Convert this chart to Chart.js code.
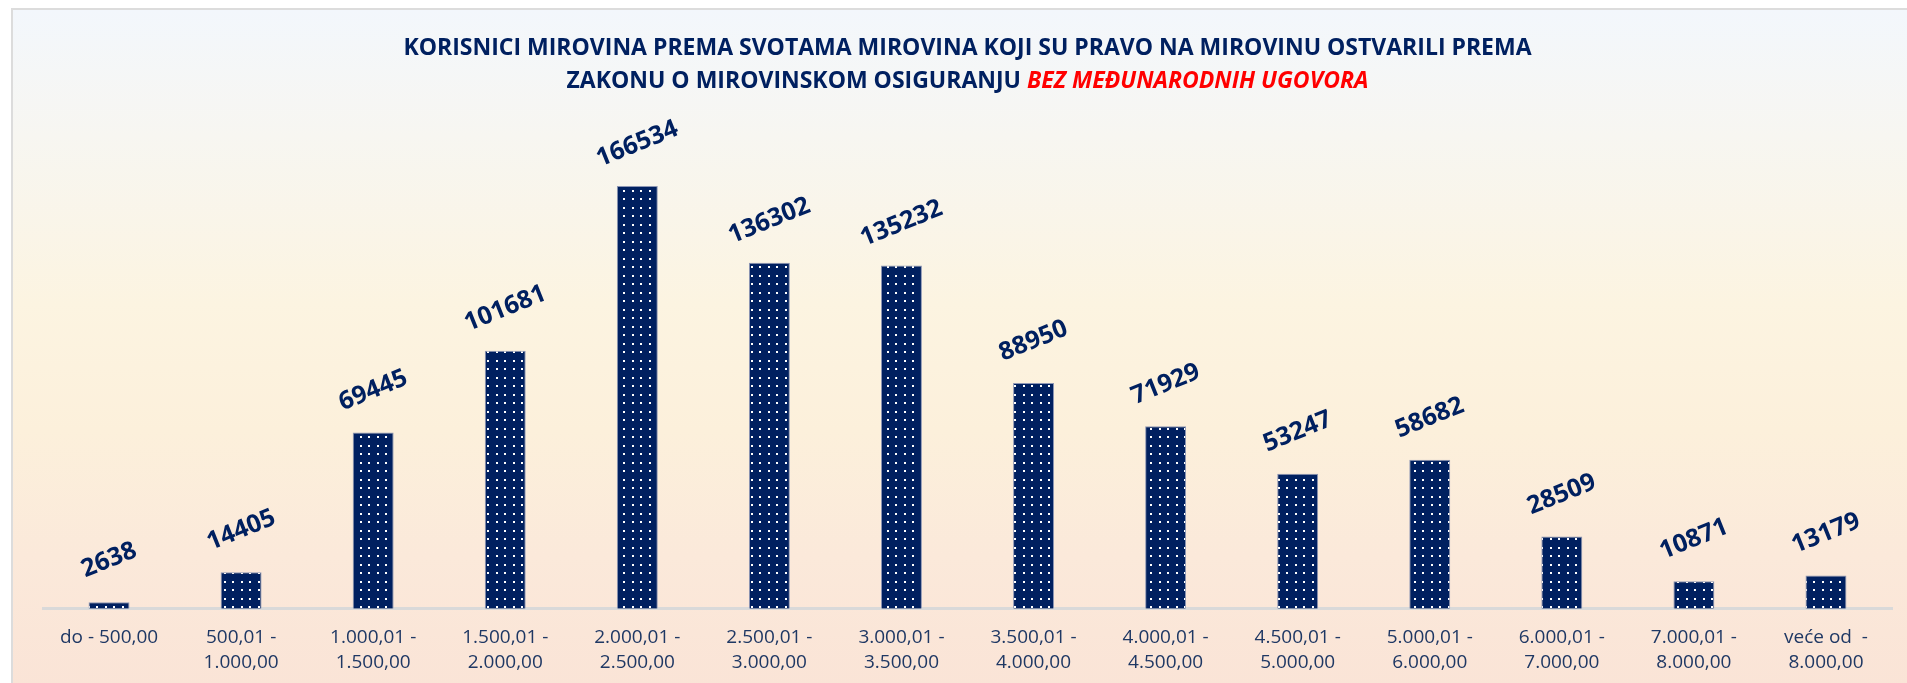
<!DOCTYPE html>
<html>
<head>
<meta charset="utf-8">
<title>Korisnici mirovina prema svotama mirovina</title>
<script src="https://cdn.jsdelivr.net/npm/chart.js@4.4.0/dist/chart.umd.min.js"></script>
<style>
    body { margin: 0; background: #ffffff; width: 1907px; height: 683px; overflow: hidden; position: relative; }
    #frame {
        position: absolute; left: 11px; top: 8px; width: 1920px; height: 700px;
        border: 2px solid #dcdcdc;
        background: linear-gradient(to bottom, #f3f7fc 0%, #f7f6f1 18%, #fcf4e1 42%, #fcf0db 60%, #fbe9da 78%, #fae3d6 100%);
    }
    #chart { position: absolute; left: 0; top: 0; }
</style>
</head>
<body>
<div id="frame"></div>
<canvas id="chart" width="1907" height="683"></canvas>
<script>
/* Data */
const categories = [
    'do - 500,00',
    ['500,01 -', '1.000,00'],
    ['1.000,01 -', '1.500,00'],
    ['1.500,01 -', '2.000,00'],
    ['2.000,01 -', '2.500,00'],
    ['2.500,01 -', '3.000,00'],
    ['3.000,01 -', '3.500,00'],
    ['3.500,01 -', '4.000,00'],
    ['4.000,01 -', '4.500,00'],
    ['4.500,01 -', '5.000,00'],
    ['5.000,01 -', '6.000,00'],
    ['6.000,01 -', '7.000,00'],
    ['7.000,01 -', '8.000,00'],
    ['veće od  -', '8.000,00']
];
const pensioners = [2638, 14405, 69445, 101681, 166534, 136302, 135232, 88950, 71929, 53247, 58682, 28509, 10871, 13179];

const titleLine1 = 'KORISNICI MIROVINA PREMA SVOTAMA MIROVINA KOJI SU PRAVO NA MIROVINU OSTVARILI PREMA';
const titleLine2 = 'ZAKONU O MIROVINSKOM OSIGURANJU ';
const titleLine2Red = 'BEZ MEĐUNARODNIH UGOVORA';
const yMax = 200000;

const NAVY = '#002060';

// dotted fill like the Excel pattern
function makeDotPattern(ctx) {
    const tile = document.createElement('canvas');
    tile.width = 17;
    tile.height = 17;
    const t = tile.getContext('2d');
    t.fillStyle = NAVY;
    t.fillRect(0, 0, 17, 17);
    t.fillStyle = '#ffffff';
    t.fillRect(3, 3, 2, 2);
    t.fillRect(11, 3, 2, 2);
    t.fillRect(3, 11, 2, 2);
    t.fillRect(11, 11, 2, 2);
    return ctx.createPattern(tile, 'repeat');
}

// title drawn by hand because the second line mixes two styles
const titlePlugin = {
    id: 'twoToneTitle',
    afterDraw(chart) {
        const ctx = chart.ctx;
        const area = chart.chartArea;
        const cx = (area.left + area.right) / 2;
        ctx.save();
        ctx.textBaseline = 'middle';
        ctx.font = 'bold 23px "Open Sans"';
        ctx.fillStyle = NAVY;
        ctx.textAlign = 'center';
        ctx.fillText(titleLine1, cx, 48);

        ctx.textAlign = 'left';
        const w1 = ctx.measureText(titleLine2).width;
        ctx.font = 'italic bold 23px "Open Sans"';
        const w2 = ctx.measureText(titleLine2Red).width;
        let x = cx - (w1 + w2) / 2;
        ctx.font = 'bold 23px "Open Sans"';
        ctx.fillStyle = NAVY;
        ctx.fillText(titleLine2, x, 81);
        ctx.font = 'italic bold 23px "Open Sans"';
        ctx.fillStyle = '#ff0000';
        ctx.fillText(titleLine2Red, x + w1, 81);
        ctx.restore();
    }
};

// rotated value labels above the bars
const valueLabels = {
    id: 'valueLabels',
    afterDatasetsDraw(chart) {
        const ctx = chart.ctx;
        const meta = chart.getDatasetMeta(0);
        ctx.save();
        ctx.font = 'bold 25px "Open Sans"';
        ctx.fillStyle = NAVY;
        ctx.textAlign = 'center';
        ctx.textBaseline = 'middle';
        meta.data.forEach((bar, i) => {
            ctx.save();
            ctx.translate(bar.x, bar.y - 42);
            ctx.rotate(-22 * Math.PI / 180);
            ctx.fillText(String(pensioners[i]), 0, 0);
            ctx.restore();
        });
        ctx.restore();
    }
};

const canvas = document.getElementById('chart');
const ctx = canvas.getContext('2d');

new Chart(ctx, {
    type: 'bar',
    data: {
        labels: categories,
        datasets: [{
            data: pensioners,
            backgroundColor: makeDotPattern(ctx),
            borderColor: '#8d96b4',
            borderWidth: 1,
            barPercentage: 0.31,
            categoryPercentage: 1
        }]
    },
    options: {
        responsive: false,
        animation: false,
        layout: {
            padding: { left: 43, right: 15, top: 101, bottom: 0 }
        },
        plugins: {
            legend: { display: false },
            title: { display: false },
            tooltip: { enabled: false }
        },
        scales: {
            x: {
                grid: { display: false, tickLength: 8 },
                border: { display: true, color: '#d9d9d9', width: 3 },
                ticks: {
                    color: '#1f3864',
                    font: { family: '"Open Sans"', size: 19, lineHeight: 1.32 },
                    padding: 8,
                    maxRotation: 0,
                    autoSkip: false
                }
            },
            y: {
                display: false,
                min: 0,
                max: yMax
            }
        }
    },
    plugins: [titlePlugin, valueLabels]
});
</script>
</body>
</html>
